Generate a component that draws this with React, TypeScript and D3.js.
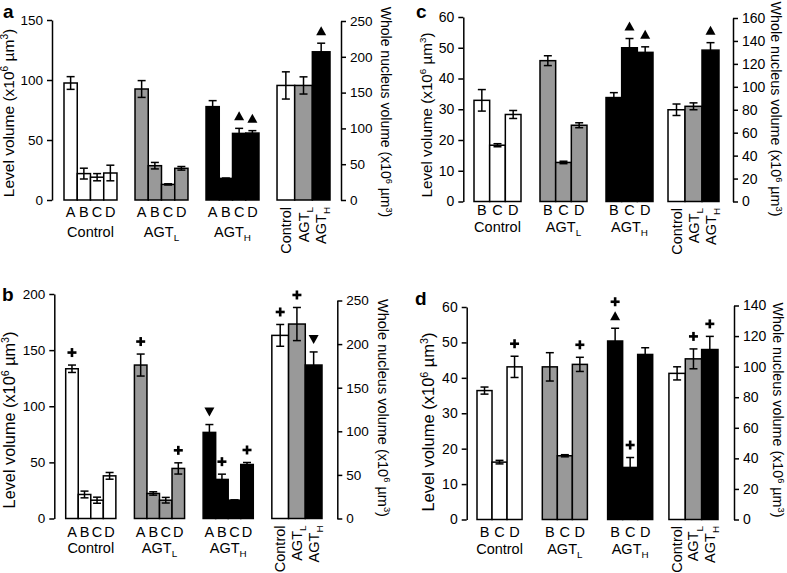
import React, { useEffect, useRef } from "react";
import * as d3 from "d3";

const W = 787;
const H = 573;
const FONT = "'Liberation Sans', Arial, Helvetica, sans-serif";

const levelsABCD = ["A", "B", "C", "D"];
const levelsBCD = ["B", "C", "D"];
const groupNames = ["Control", "AGT_L", "AGT_H"];
const groupFills = ["#ffffff", "#999999", "#000000"];

// panel a
const aControl = [97.5, 22, 19, 22.5];
const aControlErr = [5.3, 4.5, 3, 6.5];
const aControlMarks = ["", "", "", ""];
const aAgtL = [92.5, 28.6, 13, 26.4];
const aAgtLErr = [7, 2.7, 0.5, 1.5];
const aAgtLMarks = ["", "", "", ""];
const aAgtH = [77.8, 18, 55.5, 55.8];
const aAgtHErr = [5, 0.3, 4.2, 2];
const aAgtHMarks = ["", "", "up", "up"];
const aWhole = [160, 160, 207];
const aWholeErr = [19, 12, 12];
const aWholeMarks = ["", "", "up"];
const aLeftTicks = [0, 50, 100, 150];
const aRightTicks = [0, 50, 100, 150, 200, 250];

// panel b
const bControl = [133.4, 21.4, 16.3, 38];
const bControlErr = [3.3, 3, 2.7, 3];
const bControlMarks = ["plus", "", "", ""];
const bAgtL = [136.7, 22.3, 16.3, 44.6];
const bAgtLErr = [9.8, 1.5, 2.5, 5];
const bAgtLMarks = ["plus", "", "", "plus"];
const bAgtH = [76.7, 34.8, 16.3, 48.1];
const bAgtHErr = [7, 4.7, 0.3, 1.8];
const bAgtHMarks = ["down", "plus", "", "plus"];
const bWhole = [210, 223, 176];
const bWholeErr = [12.5, 19, 15];
const bWholeMarks = ["plus", "plus", "down"];
const bLeftTicks = [0, 50, 100, 150, 200];
const bRightTicks = [0, 50, 100, 150, 200, 250];

// panel c
const cControl = [32.9, 18.3, 28.3];
const cControlErr = [3.5, 0.5, 1.3];
const cControlMarks = ["", "", ""];
const cAgtL = [45.8, 12.7, 24.8];
const cAgtLErr = [1.6, 0.4, 0.8];
const cAgtLMarks = ["", "", ""];
const cAgtH = [33.8, 50, 48.5];
const cAgtHErr = [1.6, 3, 1.8];
const cAgtHMarks = ["", "up", "up"];
const cWhole = [80, 83, 132];
const cWholeErr = [5, 3, 6.5];
const cWholeMarks = ["", "", "up"];
const cLeftTicks = [0, 10, 20, 30, 40, 50, 60];
const cRightTicks = [0, 20, 40, 60, 80, 100, 120, 140, 160];

// panel d
const dControl = [36.4, 16.2, 43.1];
const dControlErr = [1, 0.5, 3];
const dControlMarks = ["", "", "plus"];
const dAgtL = [43.1, 18, 43.8];
const dAgtLErr = [4, 0.3, 2];
const dAgtLMarks = ["", "", "plus"];
const dAgtH = [50.4, 14.7, 46.6];
const dAgtHErr = [3.6, 2.8, 1.9];
const dAgtHMarks = ["up plus", "plus", ""];
const dWhole = [95.6, 105.1, 111.2];
const dWholeErr = [4.3, 6.5, 8.6];
const dWholeMarks = ["", "plus", "plus"];
const dLeftTicks = [0, 10, 20, 30, 40, 50, 60];
const dRightTicks = [0, 20, 40, 60, 80, 100, 120, 140];

type Bars = { values: number[]; errs: number[]; marks: string[] };

const panels = [
  {
    letter: "a", letterX: 3, letterY: 17.5, levels: levelsABCD,
    groups: [
      { values: aControl, errs: aControlErr, marks: aControlMarks },
      { values: aAgtL, errs: aAgtLErr, marks: aAgtLMarks },
      { values: aAgtH, errs: aAgtHErr, marks: aAgtHMarks },
    ],
    whole: { values: aWhole, errs: aWholeErr, marks: aWholeMarks },
    leftTicks: aLeftTicks, rightTicks: aRightTicks,
    leftX: 52, rightX: 341, x0: 64, x1: 330, pad: 0.254, extra: 0,
    yTop: 20, yBottom: 200, rightTop: 21,
    levelY: 217, nameY: 237, rotTop: 207,
    leftTitleX: 14, leftTitleCY: 113, rightTitleX: 381, rightTitleCY: 112,
    tickFs: 13.5, leftTitleFs: 15.5, rightTitleFs: 14,
  },
  {
    letter: "b", letterX: 2, letterY: 301, levels: levelsABCD,
    groups: [
      { values: bControl, errs: bControlErr, marks: bControlMarks },
      { values: bAgtL, errs: bAgtLErr, marks: bAgtLMarks },
      { values: bAgtH, errs: bAgtHErr, marks: bAgtHMarks },
    ],
    whole: { values: bWhole, errs: bWholeErr, marks: bWholeMarks },
    leftTicks: bLeftTicks, rightTicks: bRightTicks,
    leftX: 54.3, rightX: 337.3, x0: 65.7, x1: 322, pad: 0.27, extra: 0,
    yTop: 294, yBottom: 518.5, rightTop: 300.5,
    levelY: 537, nameY: 553, rotTop: 525.5,
    leftTitleX: 15, leftTitleCY: 420, rightTitleX: 378, rightTitleCY: 408,
    tickFs: 13.5, leftTitleFs: 16.3, rightTitleFs: 14.5,
  },
  {
    letter: "c", letterX: 416, letterY: 17.5, levels: levelsBCD,
    groups: [
      { values: cControl, errs: cControlErr, marks: cControlMarks },
      { values: cAgtL, errs: cAgtLErr, marks: cAgtLMarks },
      { values: cAgtH, errs: cAgtHErr, marks: cAgtHMarks },
    ],
    whole: { values: cWhole, errs: cWholeErr, marks: cWholeMarks },
    leftTicks: cLeftTicks, rightTicks: cRightTicks,
    leftX: 463.3, rightX: 733, x0: 474, x1: 719, pad: 0.288, extra: 4,
    yTop: 17, yBottom: 201.5, rightTop: 18,
    levelY: 215, nameY: 232, rotTop: 208,
    leftTitleX: 432, leftTitleCY: 115, rightTitleX: 771, rightTitleCY: 109,
    tickFs: 14, leftTitleFs: 15.2, rightTitleFs: 14.3,
  },
  {
    letter: "d", letterX: 415, letterY: 305, levels: levelsBCD,
    groups: [
      { values: dControl, errs: dControlErr, marks: dControlMarks },
      { values: dAgtL, errs: dAgtLErr, marks: dAgtLMarks },
      { values: dAgtH, errs: dAgtHErr, marks: dAgtHMarks },
    ],
    whole: { values: dWhole, errs: dWholeErr, marks: dWholeMarks },
    leftTicks: dLeftTicks, rightTicks: dRightTicks,
    leftX: 466.7, rightX: 734, x0: 477, x1: 718, pad: 0.31, extra: 4,
    yTop: 307, yBottom: 519.5, rightTop: 305.5,
    levelY: 537, nameY: 554, rotTop: 526,
    leftTitleX: 434, leftTitleCY: 422, rightTitleX: 773, rightTitleCY: 410,
    tickFs: 14, leftTitleFs: 16.5, rightTitleFs: 14.3,
  },
];

// text with AGT subscripts
function groupText(t: any, name: string, fs: number) {
  if (name === "Control") {
    t.text("Control");
    return;
  }
  t.append("tspan").text("AGT");
  t.append("tspan").attr("font-size", fs * 0.68).attr("dy", fs * 0.28).text(name.slice(4));
}

function supText(t: any, fs: number, parts: [string, boolean][]) {
  let up = false;
  parts.forEach(([s, sup]) => {
    const ts = t.append("tspan").text(s);
    if (sup) {
      ts.attr("font-size", fs * 0.65).attr("dy", -fs * 0.38);
      up = true;
    } else if (up) {
      ts.attr("dy", fs * 0.38);
      up = false;
    }
  });
}

function drawMarks(g: any, cx: number, yErrTop: number, marks: string) {
  if (!marks) return;
  marks.split(" ").forEach((k, j) => {
    const cy = yErrTop - 12.5 - j * 14;
    if (k === "up") {
      g.append("path").attr("d", `M${cx - 5},${cy + 4.5}L${cx + 5},${cy + 4.5}L${cx},${cy - 4.5}Z`).attr("fill", "#000");
    } else if (k === "down") {
      g.append("path").attr("d", `M${cx - 5},${cy - 4.5}L${cx + 5},${cy - 4.5}L${cx},${cy + 4.5}Z`).attr("fill", "#000");
    } else if (k === "plus") {
      g.append("rect").attr("x", cx - 4.5).attr("y", cy - 1.3).attr("width", 9).attr("height", 2.6).attr("fill", "#000");
      g.append("rect").attr("x", cx - 1.3).attr("y", cy - 4.5).attr("width", 2.6).attr("height", 9).attr("fill", "#000");
    }
  });
}

function drawBars(g: any, inner: any, keys: string[], bars: Bars, fills: string[], y: any) {
  keys.forEach((k, i) => {
    const v = bars.values[i];
    const e = bars.errs[i];
    const bx = inner(k);
    const bw = inner.bandwidth();
    g.append("rect")
      .attr("x", bx).attr("y", y(v))
      .attr("width", bw).attr("height", y(0) - y(v))
      .attr("fill", fills[i]).attr("stroke", "#000").attr("stroke-width", 1.5);
    const cx = bx + bw / 2;
    const eb = g.append("g").attr("stroke", "#000").attr("stroke-width", 1.5);
    eb.append("line").attr("x1", cx).attr("x2", cx).attr("y1", y(v - e)).attr("y2", y(v + e));
    [v - e, v + e].forEach((ev) => {
      eb.append("line").attr("x1", cx - 4).attr("x2", cx + 4).attr("y1", y(ev)).attr("y2", y(ev));
    });
    drawMarks(g, cx, y(v + e), bars.marks[i]);
  });
}

function drawPanel(svg: any, p: any) {
  const g = svg.append("g").attr("font-family", FONT);
  const labelFs = 14.5;

  const yL = d3.scaleLinear().domain([0, d3.max(p.leftTicks) as number]).range([p.yBottom, p.yTop]);
  const yR = d3.scaleLinear().domain([0, d3.max(p.rightTicks) as number]).range([p.yBottom, p.rightTop]);
  const slots = [...groupNames, "Whole"];
  const x = d3.scaleBand().domain(slots).range([p.x0, p.x1]).paddingInner(p.pad).paddingOuter(0);

  // grouped level bars
  p.groups.forEach((bars: Bars, gi: number) => {
    const name = groupNames[gi];
    const start = x(name) as number;
    const inner = d3.scaleBand().domain(p.levels).range([start, start + x.bandwidth()]);
    drawBars(g, inner, p.levels, bars, p.levels.map(() => groupFills[gi]), yL);
    p.levels.forEach((lv: string) => {
      g.append("text").attr("x", (inner(lv) as number) + inner.bandwidth() / 2).attr("y", p.levelY)
        .attr("text-anchor", "middle").attr("font-size", labelFs).text(lv);
    });
    const nt = g.append("text").attr("x", start + x.bandwidth() / 2).attr("y", p.nameY)
      .attr("text-anchor", "middle").attr("font-size", labelFs);
    groupText(nt, name, labelFs);
  });

  // whole nucleus bars
  const ws = x("Whole") as number;
  const wInner = d3.scaleBand().domain(groupNames).range([ws - p.extra, ws + x.bandwidth()]);
  drawBars(g, wInner, groupNames, p.whole, groupFills, yR);
  groupNames.forEach((name) => {
    const cx = (wInner(name) as number) + wInner.bandwidth() / 2;
    const t = g.append("text").attr("transform", `translate(${cx + 5},${p.rotTop}) rotate(-90)`)
      .attr("text-anchor", "end").attr("font-size", labelFs);
    groupText(t, name, labelFs);
  });

  // axes
  const la = g.append("g").attr("transform", `translate(${p.leftX},0)`)
    .call(d3.axisLeft(yL).tickValues(p.leftTicks).tickSize(5).tickSizeOuter(0).tickPadding(4).tickFormat(d3.format("d")));
  const ra = g.append("g").attr("transform", `translate(${p.rightX},0)`)
    .call(d3.axisRight(yR).tickValues(p.rightTicks).tickSize(5).tickSizeOuter(0).tickPadding(4).tickFormat(d3.format("d")));
  [la, ra].forEach((a) => {
    a.attr("font-family", FONT).attr("font-size", p.tickFs);
    a.select(".domain").attr("stroke-width", 1.5);
    a.selectAll(".tick line").attr("stroke-width", 1.5);
    a.selectAll(".tick text").attr("fill", "#000");
  });

  // axis titles
  const lt = g.append("text").attr("transform", `translate(${p.leftTitleX},${p.leftTitleCY}) rotate(-90)`)
    .attr("text-anchor", "middle").attr("font-size", p.leftTitleFs);
  supText(lt, p.leftTitleFs, [["Level volume (x10", false], ["6", true], [" \u00b5m", false], ["3", true], [")", false]]);
  const rt = g.append("text").attr("transform", `translate(${p.rightTitleX},${p.rightTitleCY}) rotate(90)`)
    .attr("text-anchor", "middle").attr("font-size", p.rightTitleFs);
  supText(rt, p.rightTitleFs, [["Whole nucleus volume (x10", false], ["6", true], [" \u00b5m", false], ["3", true], [")", false]]);

  // panel letter
  g.append("text").attr("x", p.letterX).attr("y", p.letterY).attr("font-size", 19).attr("font-weight", "bold").text(p.letter);
}

export default function App() {
  const ref = useRef<SVGSVGElement>(null);
  useEffect(() => {
    const svg = d3.select(ref.current);
    svg.selectAll("*").remove();
    svg.append("rect").attr("width", W).attr("height", H).attr("fill", "#fff");
    panels.forEach((p) => drawPanel(svg, p));
  }, []);
  return (
    <svg ref={ref} width={W} height={H} viewBox={`0 0 ${W} ${H}`}
      style={{ position: "absolute", left: 0, top: 0, display: "block" }} />
  );
}
